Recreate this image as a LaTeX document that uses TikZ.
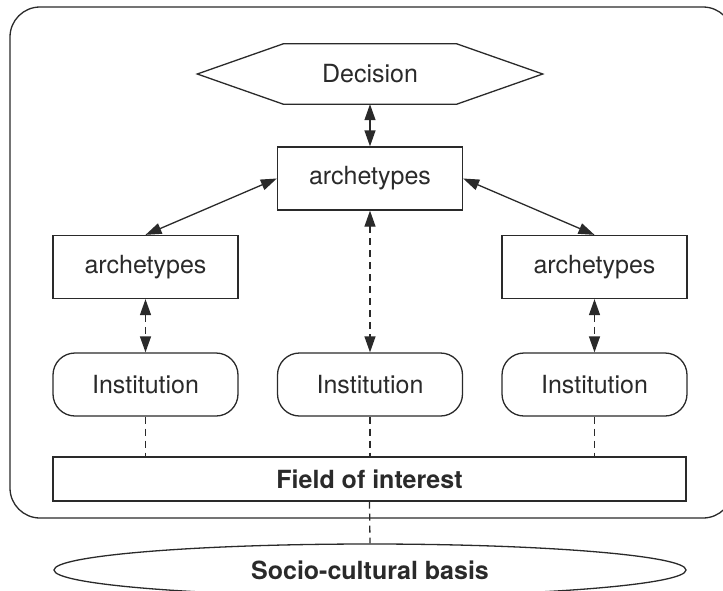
\documentclass[tikz,border=0pt]{standalone}
\usepackage{fontspec}
\setmainfont{TeX Gyre Heros}
\usetikzlibrary{arrows.meta,shapes.geometric}
\definecolor{ink}{HTML}{2A2A2A}
\begin{document}
\begin{tikzpicture}[x=1pt,y=-1pt,
  every node/.style={font=\fontsize{25}{29}\selectfont, inner sep=0pt, text=ink},
  ln/.style={line width=1.3pt, draw=ink},
  boxnode/.style={ln, draw, minimum width=185pt, minimum height=63pt},
  instnode/.style={boxnode, rounded corners=22pt},
  twoway/.style={ln, {Triangle[length=16pt,width=11pt]}-{Triangle[length=16pt,width=11pt]}},
  dashpat/.style={dash pattern=on 7pt off 5pt},
  boldtxt/.style={font=\fontsize{25}{29}\selectfont\bfseries}
]
\useasboundingbox (0,0) rectangle (723,590);
\clip (0,0) rectangle (723,590);

% outer frame
\draw[ln, rounded corners=30pt] (10,7) rectangle (733,518);

% decision hexagon
\node[minimum width=173pt, minimum height=60pt] (dec) at (370,74) {Decision};
\draw[ln] (dec.north west) -- (dec.north east) -- ([xshift=86pt]dec.east)
  -- (dec.south east) -- (dec.south west) -- ([xshift=-86pt]dec.west) -- cycle;

% archetypes
\node[boxnode] (atop) at (370,178.5) {archetypes};
\node[boxnode] (aleft) at (145.5,267) {archetypes};
\node[boxnode] (aright) at (594.5,267) {archetypes};

% institutions
\node[instnode] (ileft) at (145.5,384.5) {Institution};
\node[instnode] (imid) at (370,384.5) {Institution};
\node[instnode] (iright) at (594.5,384.5) {Institution};

% field of interest
\node[ln, draw, minimum width=633pt, minimum height=44pt, boldtxt] (field) at (369.5,479) {Field of interest};

% socio-cultural basis
\node[ln, draw, ellipse, minimum width=632pt, minimum height=52pt, boldtxt] (basis) at (370,570) {Socio-cultural basis};

% solid connectors
\draw[twoway] (dec.south) -- (atop.north);
\draw[twoway] (atop.west) -- (aleft.north);
\draw[twoway] (atop.east) -- (aright.north);

% dashed double arrows
\draw[twoway, dashpat] (aleft.south) -- (ileft.north);
\draw[twoway, dashpat] (atop.south) -- (imid.north);
\draw[twoway, dashpat] (aright.south) -- (iright.north);

% dashed lines to field and basis
\draw[ln, dashpat] (ileft.south) -- (ileft.south |- field.north);
\draw[ln, dashpat] (imid.south) -- (imid.south |- field.north);
\draw[ln, dashpat] (iright.south) -- (iright.south |- field.north);
\draw[ln, dashpat] (field.south) -- (basis.north);
\end{tikzpicture}
\end{document}
